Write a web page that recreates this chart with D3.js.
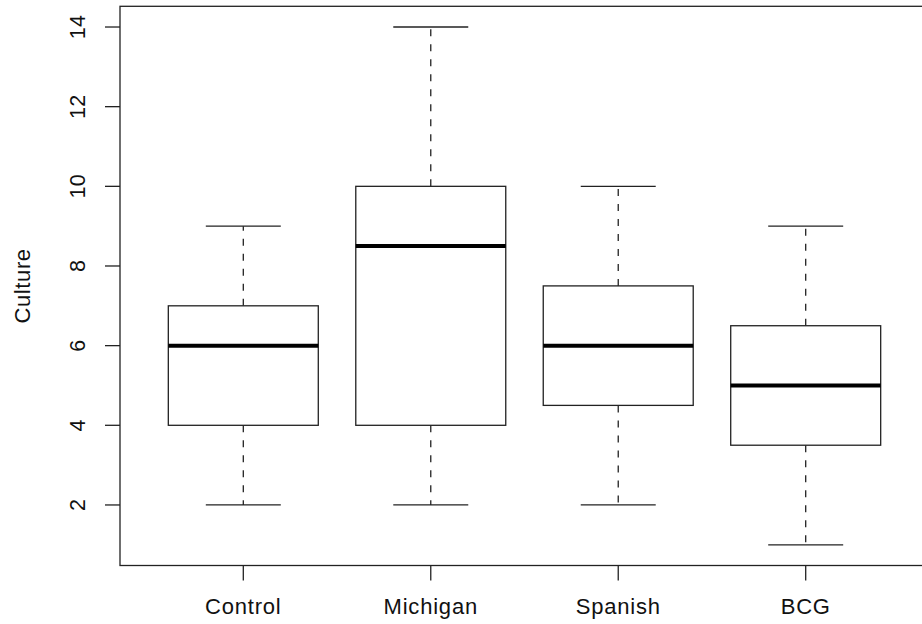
<!DOCTYPE html>
<html><head><meta charset="utf-8">
<script src="https://cdn.jsdelivr.net/npm/d3@7"></script>
<style>body{margin:0;background:#fff}svg{display:block}text{font-family:"Liberation Sans",Arial,sans-serif;fill:#111}</style>
</head><body>
<script>
const categories = ["Control","Michigan","Spanish","BCG"];
const lowerWhisker = [2,2,2,1];
const q1 = [4,4,4.5,3.5];
const median = [6,8.5,6,5];
const q3 = [7,10,7.5,6.5];
const upperWhisker = [9,14,10,9];
const yTicks = [2,4,6,8,10,12,14];
const yTitle = "Culture";

const W=922,H=624;
const svg=d3.select("body").append("svg").attr("width",W).attr("height",H);
const frame={left:120,right:929,top:6.3,bottom:565.5};
const y=d3.scaleLinear().domain([0.48,14.52]).range([frame.bottom,frame.top]);
const x=d3.scaleLinear().domain([1,4]).range([243.3,805.7]);
const step=x(2)-x(1);
const boxW=step*0.8, capW=boxW/2;
const col="#222";

svg.append("rect").attr("x",frame.left).attr("y",frame.top).attr("width",frame.right-frame.left).attr("height",frame.bottom-frame.top)
  .attr("fill","none").attr("stroke",col).attr("stroke-width",1.3);

const data=categories.map((c,i)=>({c,i:i+1,lo:lowerWhisker[i],q1:q1[i],med:median[i],q3:q3[i],hi:upperWhisker[i]}));
const g=svg.append("g").selectAll("g").data(data).join("g");
// whiskers
g.append("line").attr("x1",d=>x(d.i)).attr("x2",d=>x(d.i)).attr("y1",d=>y(d.q3)).attr("y2",d=>y(d.hi))
  .attr("stroke",col).attr("stroke-width",1.3).attr("stroke-dasharray","7,8");
g.append("line").attr("x1",d=>x(d.i)).attr("x2",d=>x(d.i)).attr("y1",d=>y(d.q1)).attr("y2",d=>y(d.lo))
  .attr("stroke",col).attr("stroke-width",1.3).attr("stroke-dasharray","7,8");
g.append("line").attr("x1",d=>x(d.i)-capW/2).attr("x2",d=>x(d.i)+capW/2).attr("y1",d=>y(d.hi)).attr("y2",d=>y(d.hi))
  .attr("stroke",col).attr("stroke-width",1.3);
g.append("line").attr("x1",d=>x(d.i)-capW/2).attr("x2",d=>x(d.i)+capW/2).attr("y1",d=>y(d.lo)).attr("y2",d=>y(d.lo))
  .attr("stroke",col).attr("stroke-width",1.3);
g.append("rect").attr("x",d=>x(d.i)-boxW/2).attr("width",boxW).attr("y",d=>y(d.q3)).attr("height",d=>y(d.q1)-y(d.q3))
  .attr("fill","#fff").attr("stroke",col).attr("stroke-width",1.3);
g.append("line").attr("x1",d=>x(d.i)-boxW/2).attr("x2",d=>x(d.i)+boxW/2).attr("y1",d=>y(d.med)).attr("y2",d=>y(d.med))
  .attr("stroke","#000").attr("stroke-width",4);

// y axis
const ya=svg.append("g");
ya.selectAll("line").data(yTicks).join("line").attr("x1",105).attr("x2",frame.left).attr("y1",d=>y(d)).attr("y2",d=>y(d)).attr("stroke",col).attr("stroke-width",1.3);
ya.selectAll("text").data(yTicks).join("text").attr("transform",d=>`translate(85,${y(d)}) rotate(-90)`)
  .attr("text-anchor","middle").attr("font-size",21.5).attr("letter-spacing",0.3).text(d=>d);
// x axis
const xa=svg.append("g");
xa.selectAll("line").data(data).join("line").attr("x1",d=>x(d.i)).attr("x2",d=>x(d.i)).attr("y1",frame.bottom).attr("y2",frame.bottom+15).attr("stroke",col).attr("stroke-width",1.3);
xa.selectAll("text").data(data).join("text").attr("x",d=>x(d.i)).attr("y",614).attr("text-anchor","middle").attr("font-size",22).attr("letter-spacing",0.8).text(d=>d.c);
svg.append("text").attr("transform",`translate(30,${(frame.top+frame.bottom)/2}) rotate(-90)`).attr("text-anchor","middle").attr("font-size",22).attr("letter-spacing",0.6).text(yTitle);
</script>
</body></html>
